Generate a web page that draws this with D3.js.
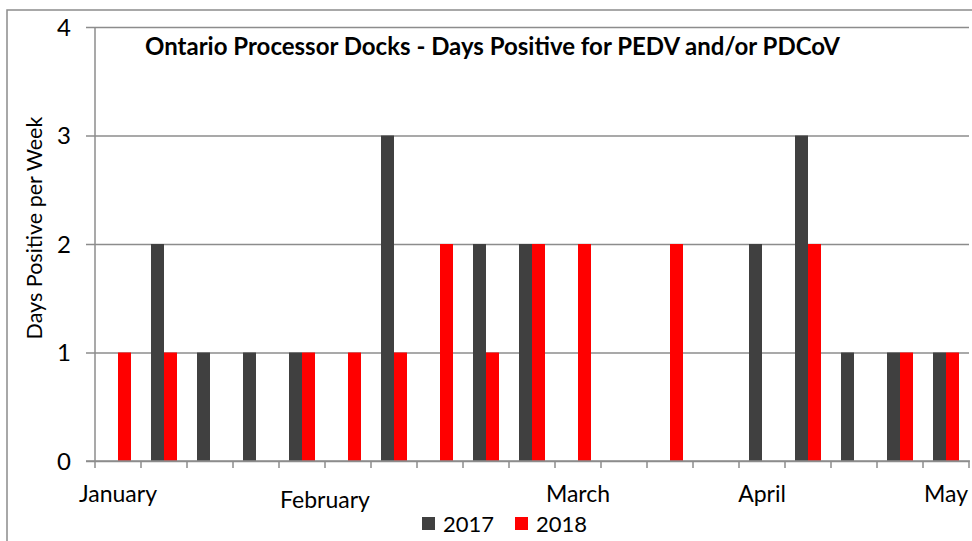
<!DOCTYPE html>
<html>
<head>
<meta charset="utf-8">
<script src="https://cdn.jsdelivr.net/npm/d3@7"></script>
<style>
  body { margin: 0; background: #fff; }
  svg text { font-family: Lato, "Open Sans", sans-serif; fill: #000; }
</style>
</head>
<body>
<svg id="chart" width="972" height="541"></svg>
<script>
// weekly counts, week 1 = first week of January
var weeks = [1, 2, 3, 4, 5, 6, 7, 8, 9, 10, 11, 12, 13, 14, 15, 16, 17, 18, 19];
var series = ["2017", "2018"];
var values2017 = [0, 2, 1, 1, 1, 0, 3, 0, 2, 2, 0, 0, 0, 0, 2, 3, 1, 1, 1];
var values2018 = [1, 1, 0, 0, 1, 1, 1, 2, 1, 2, 2, 0, 2, 0, 0, 2, 0, 1, 1];
var yTicks = [0, 1, 2, 3, 4];
var months = ["January", "February", "March", "April", "May"];
var monthWeeks = [1, 5.5, 11, 15, 19];   // week the label sits over

var colors = { "2017": "#404040", "2018": "#ff0000" };
var grey = "#8c8c8c";

var svg = d3.select("#chart");
var plotLeft = 95, plotRight = 969, plotTop = 27, plotBottom = 461;

// outer frame (runs off the right and bottom edges)
svg.append("rect")
    .attr("x", 7).attr("y", 10)
    .attr("width", 980).attr("height", 560)
    .attr("fill", "none")
    .attr("stroke", grey)
    .attr("stroke-width", 1.5);

var x = d3.scaleBand().domain(weeks).range([plotLeft, plotRight]).padding(0);
var xSub = d3.scaleBand().domain(series).range([0, x.bandwidth()])
    .paddingInner(0).paddingOuter(0.77);
var xPos = d3.scaleLinear().domain([0.5, 19.5]).range([plotLeft, plotRight]);
var y = d3.scaleLinear().domain([0, 4]).range([plotBottom, plotTop]);

// gridlines + y labels
var yAxis = d3.axisLeft(y).tickValues(yTicks).tickFormat(d3.format("d"))
    .tickSize(-(plotRight - plotLeft + 9)).tickPadding(0);
var gy = svg.append("g").attr("transform", "translate(" + (plotLeft - 9) + ",0)").call(yAxis);
gy.select(".domain").remove();
gy.selectAll(".tick line").attr("stroke", grey).attr("stroke-width", 1.5);
gy.selectAll(".tick text")
    .attr("x", -15)
    .attr("dy", "0.35em")
    .style("font-size", "24px");

// y axis line
svg.append("line")
    .attr("x1", plotLeft).attr("x2", plotLeft)
    .attr("y1", plotTop).attr("y2", plotBottom)
    .attr("stroke", grey).attr("stroke-width", 1.5);

// bars
var rows = weeks.map(function (w, i) {
  return { week: w, "2017": values2017[i], "2018": values2018[i] };
});

svg.append("g").selectAll("g")
  .data(rows)
  .enter().append("g")
    .attr("transform", function (d) { return "translate(" + x(d.week) + ",0)"; })
  .selectAll("rect")
  .data(function (d) { return series.map(function (s) { return { key: s, value: d[s] }; }); })
  .enter().append("rect")
    .attr("x", function (d) { return xSub(d.key); })
    .attr("width", xSub.bandwidth())
    .attr("y", function (d) { return y(d.value); })
    .attr("height", function (d) { return y(0) - y(d.value); })
    .attr("fill", function (d) { return colors[d.key]; });

// x axis line and week ticks
var xAxisG = svg.append("g");
xAxisG.append("line")
    .attr("x1", plotLeft - 9).attr("x2", plotRight + 1)
    .attr("y1", plotBottom).attr("y2", plotBottom)
    .attr("stroke", grey).attr("stroke-width", 1.5);
xAxisG.selectAll(".wtick")
  .data(weeks.concat([20]))
  .enter().append("line")
    .attr("class", "wtick")
    .attr("x1", function (d) { return xPos(d - 0.5); })
    .attr("x2", function (d) { return xPos(d - 0.5); })
    .attr("y1", plotBottom).attr("y2", plotBottom + 7)
    .attr("stroke", grey).attr("stroke-width", 1.5);

// month labels (February dropped a little, as in the original)
svg.append("g").selectAll("text")
  .data(months)
  .enter().append("text")
    .attr("x", function (d, i) { return xPos(monthWeeks[i]); })
    .attr("y", function (d) { return d === "February" ? 508 : 502; })
    .attr("text-anchor", "middle")
    .style("font-size", "23px")
    .text(function (d) { return d; });

// title
svg.append("text")
    .attr("x", 145).attr("y", 55)
    .style("font-size", "24px")
    .style("font-weight", "bold")
    .text("Ontario Processor Docks - Days Positive for PEDV and/or PDCoV");

// y axis title
svg.append("text")
    .attr("transform", "translate(42,228) rotate(-90)")
    .attr("text-anchor", "middle")
    .style("font-size", "21.5px")
    .text("Days Positive per Week");

// legend
var legend = svg.append("g").selectAll("g")
  .data(series)
  .enter().append("g")
    .attr("transform", function (d, i) { return "translate(" + (422 + i * 93) + ",517)"; });
legend.append("rect")
    .attr("width", 13).attr("height", 13)
    .attr("fill", function (d) { return colors[d]; });
legend.append("text")
    .attr("x", 21).attr("y", 15)
    .style("font-size", "22px")
    .text(function (d) { return d; });
</script>
</body>
</html>
